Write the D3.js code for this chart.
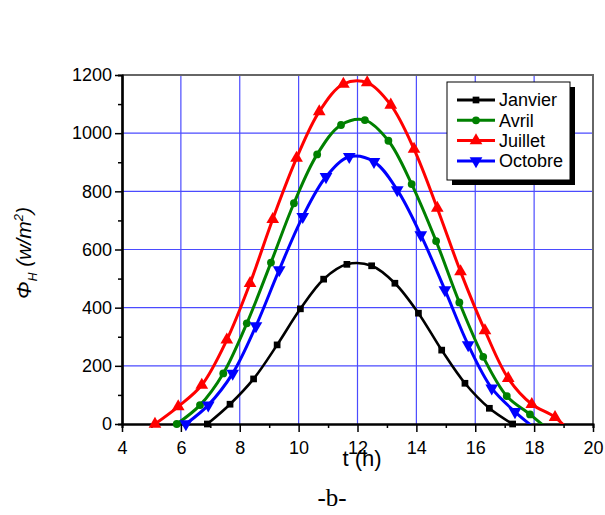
<!DOCTYPE html>
<html lang="fr">
<head>
<meta charset="UTF-8">
<title>Flux solaire horizontal</title>
<script src="https://d3js.org/d3.v7.min.js"></script>
<style>
    body { margin: 0; background: #fff; }
    svg { display: block; font-family: "Liberation Sans", Arial, sans-serif; }
</style>
</head>
<body>
<svg id="chart" width="605" height="515"></svg>
<script>
    // values (t in hours, phi in W/m2)
    const months = ["Janvier", "Avril", "Juillet", "Octobre"]
    const tJanvier = [6.90, 7.67, 8.47, 9.27, 10.06, 10.85, 11.64, 12.48, 13.27, 14.07, 14.86, 15.65, 16.48, 17.27]
    const phiJanvier = [0, 68, 155, 272, 396, 498, 549, 544, 484, 381, 254, 140, 54, 0]
    const tAvril = [5.86, 6.65, 7.44, 8.24, 9.06, 9.84, 10.63, 11.44, 12.25, 13.05, 13.84, 14.67, 15.46, 16.27, 17.07, 17.86, 18.66]
    const phiAvril = [0, 65, 174, 346, 555, 759, 927, 1028, 1045, 974, 825, 629, 418, 231, 96, 33, -35]
    const tJuillet = [5.12, 5.91, 6.71, 7.56, 8.35, 9.12, 9.93, 10.70, 11.52, 12.33, 13.13, 13.92, 14.71, 15.50, 16.33, 17.12, 17.92, 18.71, 19.51]
    const phiJuillet = [0, 60, 134, 289, 484, 704, 914, 1074, 1169, 1174, 1097, 945, 742, 524, 321, 157, 68, 23, -60]
    const tOctobre = [6.17, 6.93, 7.76, 8.55, 9.34, 10.14, 10.93, 11.72, 12.56, 13.35, 14.15, 14.97, 15.76, 16.56, 17.35, 18.15]
    const phiOctobre = [0, 65, 174, 337, 530, 713, 850, 919, 902, 805, 650, 461, 272, 123, 42, -25]
    const xTicks = [4, 6, 8, 10, 12, 14, 16, 18, 20]
    const yTicks = [0, 200, 400, 600, 800, 1000, 1200]

    const colors = ["#000000", "#008000", "#ff0000", "#0000ff"]
    const symbols = [d3.symbolSquare, d3.symbolCircle, d3.symbolTriangle, d3.symbolTriangle]
    const symSize = [45, 48, 70, 70]
    const symRot = [0, 0, 0, 180]
    const series = [
        d3.zip(tJanvier, phiJanvier),
        d3.zip(tAvril, phiAvril),
        d3.zip(tJuillet, phiJuillet),
        d3.zip(tOctobre, phiOctobre)
    ]

    const svg = d3.select("#chart")
    const pLeft = 122, pRight = 593, pTop = 75, pBottom = 424
    const x = d3.scaleLinear().domain([4, 20]).range([pLeft, pRight])
    const y = d3.scaleLinear().domain([0, 1200]).range([pBottom, pTop])

    // grid
    const grid = svg.append("g").attr("stroke", "#4b4bff").attr("stroke-width", 1.2)
    grid.selectAll("line.v").data(xTicks.slice(1, -1)).enter().append("line")
        .attr("x1", d => x(d)).attr("x2", d => x(d)).attr("y1", pTop).attr("y2", pBottom)
    grid.selectAll("line.h").data(yTicks.slice(1, -1)).enter().append("line")
        .attr("x1", pLeft).attr("x2", pRight).attr("y1", d => y(d)).attr("y2", d => y(d))

    // frame top / right
    svg.append("path")
        .attr("d", `M${pLeft},${pTop}H${pRight}V${pBottom}`)
        .attr("fill", "none").attr("stroke", "#666").attr("stroke-width", 2)

    // axes
    const xAxis = svg.append("g").attr("transform", `translate(0,${pBottom})`)
        .call(d3.axisBottom(x).tickValues(xTicks).tickSize(8).tickSizeOuter(0))
    xAxis.append("g").call(d3.axisBottom(x).tickValues(d3.range(5, 20, 2)).tickSize(4).tickFormat(""))
    const yAxis = svg.append("g").attr("transform", `translate(${pLeft},0)`)
        .call(d3.axisLeft(y).tickValues(yTicks).tickSize(7).tickSizeOuter(0).tickFormat(d3.format("d")))
    yAxis.append("g").call(d3.axisLeft(y).tickValues(d3.range(100, 1200, 200)).tickSize(4).tickFormat(""))
    svg.selectAll(".domain").attr("stroke", "#000").attr("stroke-width", 2.2)
    svg.selectAll(".tick line").attr("stroke", "#000").attr("stroke-width", 1.5)
    xAxis.selectAll(".tick text").attr("font-size", 18).attr("font-family", "Liberation Sans, Arial")
        .attr("fill", "#000").attr("dy", "1.05em")
    yAxis.selectAll(".tick text").attr("font-size", 18).attr("font-family", "Liberation Sans, Arial")
        .attr("fill", "#000").attr("x", -10)

    // curves
    svg.append("clipPath").attr("id", "clip").append("rect")
        .attr("x", pLeft).attr("y", pTop - 10).attr("width", pRight - pLeft).attr("height", pBottom - pTop + 10)
    const line = d3.line().x(d => x(d[0])).y(d => y(d[1])).curve(d3.curveCatmullRom.alpha(0.5))
    const plot = svg.append("g").attr("clip-path", "url(#clip)")
    series.forEach((pts, i) => {
        plot.append("path").datum(pts)
            .attr("fill", "none").attr("stroke", colors[i]).attr("stroke-width", i === 0 ? 2.6 : 3)
            .attr("d", line)
    })
    series.forEach((pts, i) => {
        svg.append("g").selectAll("path").data(pts.filter(d => d[1] >= 0)).enter().append("path")
            .attr("d", d3.symbol().type(symbols[i]).size(symSize[i]))
            .attr("transform", d => `translate(${x(d[0])},${y(d[1])}) rotate(${symRot[i]})`)
            .attr("fill", colors[i])
    })

    // legend
    const lg = svg.append("g").attr("transform", "translate(447,82)")
    lg.append("rect").attr("x", 5).attr("y", 5).attr("width", 123).attr("height", 98).attr("fill", "#000")
    lg.append("rect").attr("width", 123).attr("height", 98).attr("fill", "#fff").attr("stroke", "#000")
    months.forEach((m, i) => {
        const row = lg.append("g").attr("transform", `translate(0,${18 + i * 20.3})`)
        row.append("line").attr("x1", 10).attr("x2", 48).attr("stroke", colors[i]).attr("stroke-width", 3)
        row.append("path").attr("d", d3.symbol().type(symbols[i]).size(symSize[i]))
            .attr("transform", `translate(29,0) rotate(${symRot[i]})`).attr("fill", colors[i])
        row.append("text").attr("x", 52).attr("dy", "0.36em").attr("font-size", 18).text(m)
    })

    // axis titles
    svg.append("text").attr("x", 362).attr("y", 466).attr("text-anchor", "middle")
        .attr("font-size", 22).text("t (h)")
    const yl = svg.append("text").attr("transform", "translate(31,253) rotate(-90)")
        .attr("text-anchor", "middle").attr("font-size", 21).attr("font-style", "italic")
    yl.append("tspan").text("Φ")
    yl.append("tspan").attr("font-size", 12).attr("dy", 6).text("H")
    yl.append("tspan").attr("dy", -6).text(" (w/m")
    yl.append("tspan").attr("font-size", 13).attr("dy", -8).text("2")
    yl.append("tspan").attr("dy", 8).text(")")

    svg.append("text").attr("x", 332).attr("y", 506).attr("text-anchor", "middle")
        .attr("font-family", "Liberation Serif, Times New Roman, serif").attr("font-size", 25).text("-b-")
</script>
</body>
</html>
